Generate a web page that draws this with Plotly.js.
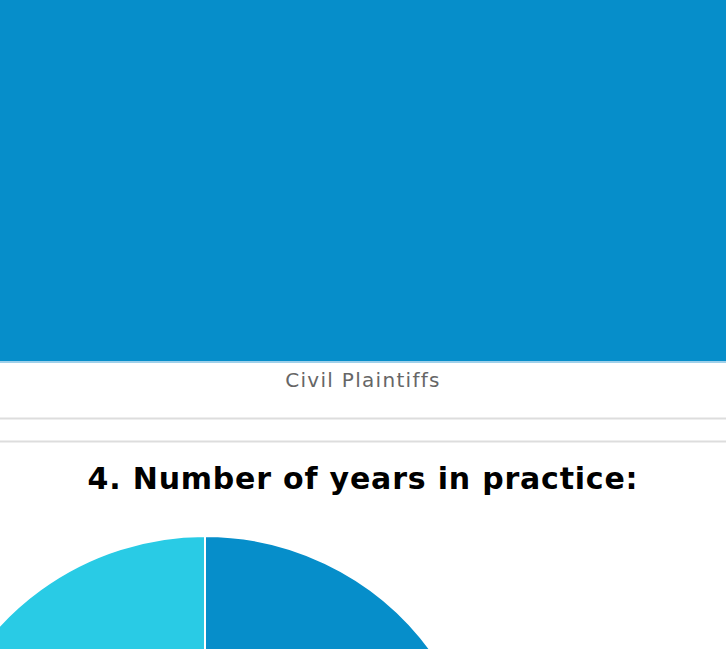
<!DOCTYPE html>
<html>
<head>
<meta charset="utf-8">
<script src="https://cdn.plot.ly/plotly-3.0.1.min.js"></script>
<style>
html,body{margin:0;padding:0;width:726px;height:649px;overflow:hidden;background:#fff;}
#chart{position:absolute;left:-100px;top:0;width:826px;height:1120px;}
#chart .xtick text{letter-spacing:1.3px;}
#chart .annotation-text{letter-spacing:0.8px;}
</style>
</head>
<body>
<div id="chart"></div>
<script>
// Question 3 bar (only this category visible)
const barCategories = ["Civil Plaintiffs"];
const barValues = [100];

// Question 4 pie
const pieTitle = "4. Number of years in practice:";
const pieLabels = ["Less than 5 years", "5-10 years", "11-20 years", "More than 20 years"];
const pieValues = [30, 25, 25, 20];
const pieColors = ["#068ECA", "#1B5E8C", "#7FD3E8", "#29CBE5"];

const W = 826, H = 1120, L = 100;
const px = v => 1 - v / H;

const data = [
  {
    type: "bar",
    x: barCategories,
    y: barValues,
    marker: {color: "#068ECA"},
    hoverinfo: "none",
    xaxis: "x", yaxis: "y"
  },
  {
    type: "pie",
    labels: pieLabels,
    values: pieValues,
    sort: false,
    direction: "clockwise",
    rotation: 0,
    textinfo: "none",
    marker: {colors: pieColors, line: {color: "#ffffff", width: 2}},
    domain: {x: [25 / W, 585 / W], y: [px(1096), px(536)]},
    showlegend: false,
    hoverinfo: "none"
  }
];

const layout = {
  width: W, height: H,
  margin: {l: 0, r: 0, t: 0, b: 0},
  paper_bgcolor: "#ffffff",
  plot_bgcolor: "#ffffff",
  showlegend: false,
  bargap: 0,
  xaxis: {
    domain: [L / W, 1],
    showline: true, linecolor: "#9fd0ea", linewidth: 2,
    ticks: "", showgrid: false, zeroline: false,
    tickfont: {family: "DejaVu Sans", size: 20, color: "#666666"}
  },
  yaxis: {
    domain: [px(361), 1],
    range: [0, 100],
    visible: false, showgrid: false, zeroline: false
  },
  shapes: [
    {type: "line", xref: "paper", yref: "paper", x0: L / W, x1: 1, y0: px(418.5), y1: px(418.5), line: {color: "#dddddd", width: 2}},
    {type: "line", xref: "paper", yref: "paper", x0: L / W, x1: 1, y0: px(441.5), y1: px(441.5), line: {color: "#dddddd", width: 2}}
  ],
  annotations: [
    {
      text: "<b>" + pieTitle + "</b>",
      xref: "paper", yref: "paper",
      x: (363 + L) / W, y: px(478),
      xanchor: "center", yanchor: "middle",
      showarrow: false,
      font: {family: "DejaVu Sans", size: 30, color: "#000000"}
    }
  ]
};

Plotly.newPlot("chart", data, layout, {staticPlot: true, displayModeBar: false});
</script>
</body>
</html>
